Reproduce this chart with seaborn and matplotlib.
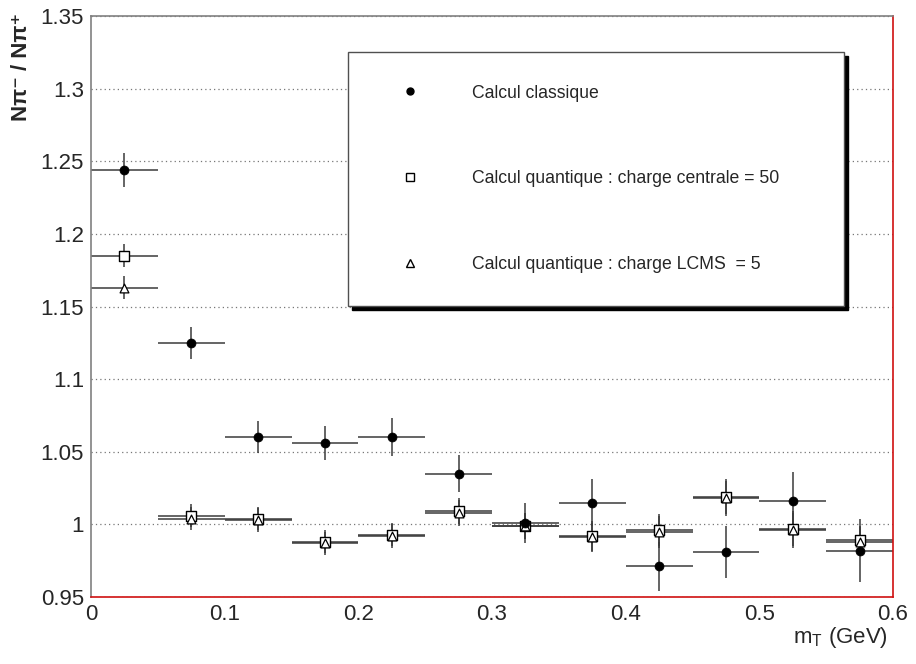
import numpy as np
import pandas as pd
import seaborn as sns
import matplotlib.pyplot as plt
from matplotlib.lines import Line2D
from matplotlib.ticker import FixedLocator

# bin centres (GeV) and half width
mt = [0.025, 0.075, 0.125, 0.175, 0.225, 0.275, 0.325, 0.375, 0.425, 0.475, 0.525, 0.575]
half_bin = 0.025

classique = [1.244, 1.125, 1.060, 1.056, 1.060, 1.035, 1.001, 1.015, 0.971, 0.981, 1.016, 0.982]
err_classique = [0.012, 0.011, 0.011, 0.012, 0.013, 0.013, 0.014, 0.016, 0.017, 0.018, 0.020, 0.022]

centrale = [1.185, 1.006, 1.004, 0.988, 0.993, 1.009, 0.999, 0.992, 0.996, 1.019, 0.997, 0.989]
err_centrale = [0.008, 0.008, 0.008, 0.008, 0.008, 0.009, 0.009, 0.010, 0.011, 0.012, 0.012, 0.010]

lcms = [1.163, 1.004, 1.003, 0.987, 0.992, 1.008, 0.999, 0.991, 0.995, 1.018, 0.996, 0.988]
err_lcms = [0.008, 0.008, 0.008, 0.008, 0.008, 0.009, 0.009, 0.010, 0.011, 0.012, 0.012, 0.010]

labels = ["Calcul classique",
          "Calcul quantique : charge centrale = 50",
          "Calcul quantique : charge LCMS  = 5"]

x_ticks = [0, 0.1, 0.2, 0.3, 0.4, 0.5, 0.6]
x_ticklabels = ["0", "0.1", "0.2", "0.3", "0.4", "0.5", "0.6"]
y_ticks = [0.95, 1.0, 1.05, 1.1, 1.15, 1.2, 1.25, 1.3, 1.35]
y_ticklabels = ["0.95", "1", "1.05", "1.1", "1.15", "1.2", "1.25", "1.3", "1.35"]

df = pd.DataFrame({"mt": mt * 3,
                   "ratio": classique + centrale + lcms,
                   "err": err_classique + err_centrale + err_lcms,
                   "calc": [labels[0]] * 12 + [labels[1]] * 12 + [labels[2]] * 12})

sns.set_theme(style="white")
plt.rcParams["font.family"] = ["Liberation Sans", "DejaVu Sans"]
plt.rcParams["mathtext.fontset"] = "custom"
plt.rcParams["mathtext.rm"] = "Liberation Sans"
plt.rcParams["mathtext.it"] = "Liberation Sans:italic"
plt.rcParams["mathtext.bf"] = "Liberation Sans:bold"

fig = plt.figure(figsize=(9.16, 6.64), dpi=100)
ax = fig.add_axes([91 / 916, 1 - 597 / 664, 802 / 916, 581 / 664])

# error bars first (behind the markers)
for lab in [labels[1], labels[2], labels[0]]:
    d = df[df["calc"] == lab]
    ax.errorbar(d["mt"], d["ratio"], xerr=half_bin, yerr=d["err"], fmt="none",
                ecolor="#3a3a3a", elinewidth=1.1, capsize=0, zorder=2)

d = df[df["calc"] == labels[1]]
sns.scatterplot(data=d, x="mt", y="ratio", marker="s", s=50, color="white",
                edgecolor="black", linewidth=1, ax=ax, zorder=3, legend=False)
d = df[df["calc"] == labels[2]]
sns.scatterplot(data=d, x="mt", y="ratio", marker="^", s=40, color="white",
                edgecolor="black", linewidth=0.9, ax=ax, zorder=4, legend=False)
d = df[df["calc"] == labels[0]]
sns.scatterplot(data=d, x="mt", y="ratio", marker="o", s=42, color="black",
                edgecolor="black", linewidth=0.5, ax=ax, zorder=5, legend=False)

ax.set_xlim(0, 0.6)
ax.set_ylim(0.95, 1.35)
ax.set_xticks(x_ticks)
ax.set_xticklabels(x_ticklabels)
ax.xaxis.set_minor_locator(FixedLocator([0.05, 0.15, 0.25, 0.35, 0.45, 0.55]))
ax.set_yticks(y_ticks)
ax.set_yticklabels(y_ticklabels)
ax.yaxis.set_minor_locator(FixedLocator([0.975 + 0.05 * i for i in range(8)]))

ax.tick_params(axis="both", which="both", direction="in", color="#202020", labelsize=16)
ax.tick_params(axis="y", which="major", length=18, width=1.2, pad=5)
ax.tick_params(axis="y", which="minor", length=9.5, width=1.2)
ax.tick_params(axis="x", which="major", length=11.5, width=1, pad=5, top=False)
ax.tick_params(axis="x", which="minor", length=6, width=1, top=False)
ax.tick_params(axis="y", right=False)

ax.grid(axis="y", which="major", linestyle=(0, (1, 2.5)), color="#777777", linewidth=0.9)
ax.grid(axis="x", visible=False)

ax.spines["left"].set_color("#808080")
ax.spines["top"].set_color("#808080")
ax.spines["bottom"].set_color("#d01010")
ax.spines["right"].set_color("#d01010")
for s in ax.spines.values():
    s.set_linewidth(1.2)

ax.set_xlabel(r"m$_{\mathrm{T}}$ (GeV)", fontsize=16, ha="right", va="center")
ax.xaxis.set_label_coords(0.994, -0.07)
ax.set_ylabel("Nπ⁻ / Nπ⁺", fontsize=16, fontweight="bold", ha="right", va="center")
ax.yaxis.set_label_coords(-0.087, 1.005)

handles = [Line2D([], [], marker="o", color="black", markersize=5, linestyle="none"),
           Line2D([], [], marker="s", markerfacecolor="white", markeredgecolor="black",
                  markersize=6, linestyle="none"),
           Line2D([], [], marker="^", markerfacecolor="white", markeredgecolor="black",
                  markersize=6, linestyle="none")]
leg = ax.legend(handles, labels, loc="upper left", mode="expand",
                bbox_to_anchor=(0.3204, 0.0, 0.9389 - 0.3204, 0.938),
                fontsize=12.7, borderpad=1.85, labelspacing=3.9, handlelength=3.3,
                handletextpad=1.9, borderaxespad=0, fancybox=False,
                shadow={"ox": 3, "oy": -3, "color": "black", "alpha": 1}, framealpha=1)
leg.get_frame().set_edgecolor("#505050")
leg.get_frame().set_linewidth(1)

fig.savefig("out.png", dpi=100)
